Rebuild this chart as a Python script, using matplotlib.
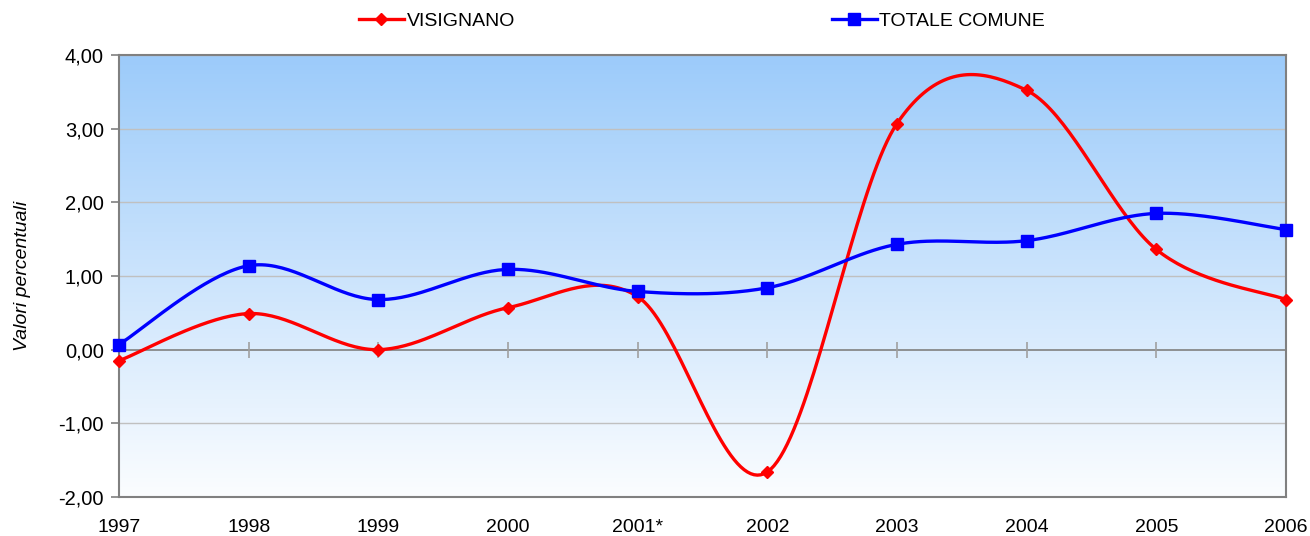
import numpy as np
import matplotlib.pyplot as plt
from matplotlib.colors import LinearSegmentedColormap

# Data
years = ['1997', '1998', '1999', '2000', '2001*', '2002', '2003', '2004', '2005', '2006']
visignano = [-0.15, 0.49, 0.00, 0.57, 0.72, -1.66, 3.07, 3.52, 1.36, 0.68]
totale_comune = [0.07, 1.14, 0.68, 1.09, 0.79, 0.84, 1.43, 1.48, 1.85, 1.63]
y_ticks = [-2, -1, 0, 1, 2, 3, 4]

plt.rcParams['font.family'] = ['Liberation Sans', 'DejaVu Sans']


def smooth(x, y, n=40):
    # Excel-style smoothed line: cubic Bezier with Catmull-Rom control points
    x = np.asarray(x, float)
    y = np.asarray(y, float)
    px = np.concatenate([[x[0]], x, [x[-1]]])
    py = np.concatenate([[y[0]], y, [y[-1]]])
    xs, ys = [], []
    t = np.linspace(0, 1, n)
    for i in range(1, len(px) - 2):
        p0 = np.array([px[i], py[i]])
        p3 = np.array([px[i + 1], py[i + 1]])
        c1 = p0 + (np.array([px[i + 1], py[i + 1]]) - np.array([px[i - 1], py[i - 1]])) / 6
        c2 = p3 - (np.array([px[i + 2], py[i + 2]]) - np.array([px[i], py[i]])) / 6
        b = ((1 - t) ** 3)[:, None] * p0 + (3 * (1 - t) ** 2 * t)[:, None] * c1 \
            + (3 * (1 - t) * t ** 2)[:, None] * c2 + (t ** 3)[:, None] * p3
        xs.extend(b[:, 0])
        ys.extend(b[:, 1])
    return xs, ys


fig = plt.figure(figsize=(13.1, 5.36), dpi=100)
ax = fig.add_axes([119 / 1310, 39 / 536, 1167 / 1310, 442 / 536])

x = np.arange(len(years))

# gradient background
cmap = LinearSegmentedColormap.from_list('bg', ['#fbfdff', '#9ccbfa'])
grad = np.linspace(0, 1, 256).reshape(-1, 1)
ax.imshow(grad, cmap=cmap, origin='lower', aspect='auto',
          extent=[0, 9, -2, 4], zorder=0)

for yv in y_ticks:
    if yv != 0:
        ax.axhline(yv, color='#c0c0c0', lw=1, zorder=1)
ax.axhline(0, color='#808080', lw=1.2, zorder=1)
ax.plot(x, np.zeros(len(x)), ls='none', marker='|', ms=12, mew=1.2,
        color='#a0a0a0', zorder=1, clip_on=False)

sx, sy = smooth(x, visignano)
ax.plot(sx, sy, color='#ff0000', lw=2.4, zorder=3, clip_on=False)
ax.plot(x, visignano, ls='none', marker='D', ms=6.5, color='#ff0000',
        zorder=4, clip_on=False)
sx, sy = smooth(x, totale_comune)
ax.plot(sx, sy, color='#0000ff', lw=2.4, zorder=3, clip_on=False)
ax.plot(x, totale_comune, ls='none', marker='s', ms=8, color='#0000ff',
        zorder=4, clip_on=False)

ax.set_xlim(0, 9)
ax.set_ylim(-2, 4)
ax.set_xticks(x)
ax.set_xticklabels(years, fontsize=14)
ax.tick_params(axis='x', length=0, pad=16)
ax.set_yticks(y_ticks)
ax.set_yticklabels([f'{v:.2f}'.replace('.', ',') for v in y_ticks], fontsize=14.5)
ax.tick_params(axis='y', length=6, color='#808080', width=1.2, pad=5)
for s in ax.spines.values():
    s.set_color('#808080')
    s.set_linewidth(1.5)
ax.set_ylabel('Valori percentuali', fontsize=14, style='italic')
ax.yaxis.set_label_coords(-88 / 1167, 0.5)

# legend
h1, = ax.plot([], [], color='#ff0000', lw=2.4, marker='D', ms=6.5)
h2, = ax.plot([], [], color='#0000ff', lw=2.4, marker='s', ms=8)
fig.legend([h1, h2], ['VISIGNANO', 'TOTALE COMUNE'], loc='center',
           bbox_to_anchor=(702 / 1310, 1 - 21 / 536), ncol=2, frameon=False,
           fontsize=14, handlelength=2.3, handletextpad=0.15, columnspacing=16.3)

plt.savefig('out.png', dpi=100)
